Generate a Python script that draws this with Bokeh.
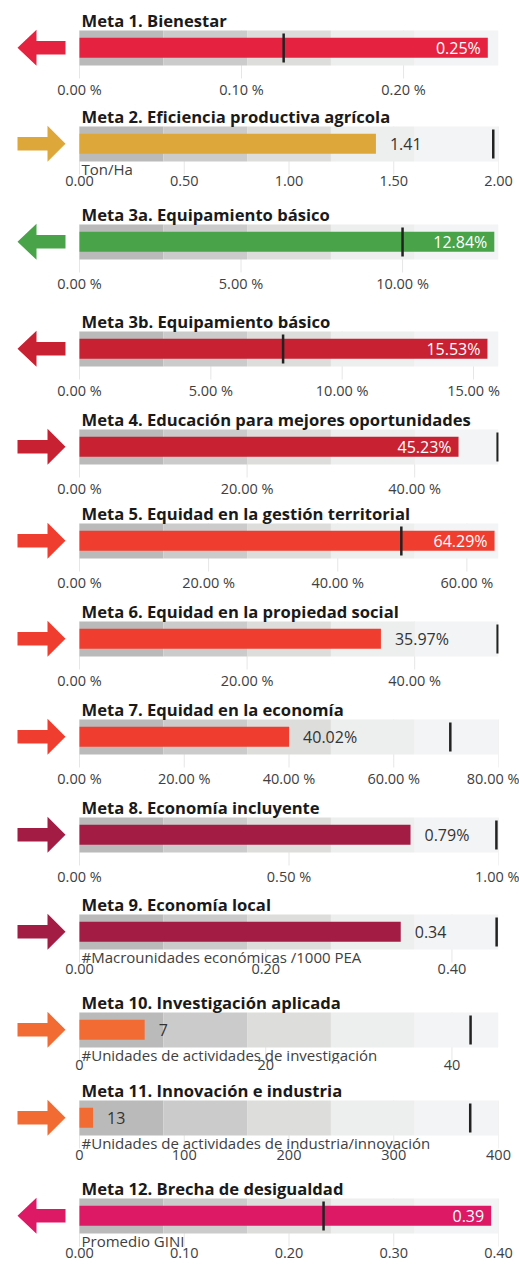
from bokeh.plotting import figure
from bokeh.layouts import column
from bokeh.models import Range1d, FixedTicker
from bokeh.embed import file_html
from bokeh.resources import INLINE
from bokeh.core.properties import value

# ---------------- data ----------------
titles = [
    "Meta 1. Bienestar",
    "Meta 2. Eficiencia productiva agrícola",
    "Meta 3a. Equipamiento básico",
    "Meta 3b. Equipamiento básico",
    "Meta 4. Educación para mejores oportunidades",
    "Meta 5. Equidad en la gestión territorial",
    "Meta 6. Equidad en la propiedad social",
    "Meta 7. Equidad en la economía",
    "Meta 8. Economía incluyente",
    "Meta 9. Economía local",
    "Meta 10. Investigación aplicada",
    "Meta 11.  Innovación e industria",
    "Meta 12. Brecha de desigualdad",
]
values = [0.252, 1.415, 12.84, 15.53, 45.23, 64.29, 35.97, 40.02, 0.79, 0.345, 7, 13, 0.393]
value_labels = ["0.25%", "1.41", "12.84%", "15.53%", "45.23%", "64.29%", "35.97%",
                "40.02%", "0.79%", "0.34", "7", "13", "0.39"]
targets = [0.126, 1.975, 10.0, 7.75, 49.9, 49.85, 49.9, 70.8, 0.995, 0.448, 42, 373, 0.233]
axis_max = [0.2586, 2.0, 12.97, 15.95, 50.0, 64.9, 50.0, 80.0, 1.0, 0.45, 45, 400, 0.4]
directions = ["left", "right", "left", "left", "right", "right", "right", "right",
              "right", "right", "right", "right", "left"]
colors = ["#e52340", "#dea73a", "#48a349", "#c72132", "#c72132", "#ef3e2f", "#ef3e2f",
          "#ef3e2f", "#a31c44", "#a31c44", "#f26b33", "#f26b33", "#dd1966"]
units = ["", "Ton/Ha", "", "", "", "", "", "", "",
         "#Macrounidades económicas /1000 PEA",
         "#Unidades de actividades de investigación",
         "#Unidades de actividades de industria/innovación",
         "Promedio GINI"]
tick_values = [
    [0, 0.1, 0.2],
    [0, 0.5, 1.0, 1.5, 2.0],
    [0, 5, 10],
    [0, 5, 10, 15],
    [0, 20, 40],
    [0, 20, 40, 60],
    [0, 20, 40],
    [0, 20, 40, 60, 80],
    [0, 0.5, 1.0],
    [0, 0.2, 0.4],
    [0, 20, 40],
    [0, 100, 200, 300, 400],
    [0, 0.1, 0.2, 0.3, 0.4],
]
tick_labels = [
    ["0.00 %", "0.10 %", "0.20 %"],
    ["0.00", "0.50", "1.00", "1.50", "2.00"],
    ["0.00 %", "5.00 %", "10.00 %"],
    ["0.00 %", "5.00 %", "10.00 %", "15.00 %"],
    ["0.00 %", "20.00 %", "40.00 %"],
    ["0.00 %", "20.00 %", "40.00 %", "60.00 %"],
    ["0.00 %", "20.00 %", "40.00 %"],
    ["0.00 %", "20.00 %", "40.00 %", "60.00 %", "80.00 %"],
    ["0.00 %", "0.50 %", "1.00 %"],
    ["0.00", "0.20", "0.40"],
    ["0", "20", "40"],
    ["0", "100", "200", "300", "400"],
    ["0.00", "0.10", "0.20", "0.30", "0.40"],
]
band_fractions = [0.2, 0.4, 0.6, 0.8, 1.0]
band_colors = ["#bababa", "#cbcbcb", "#dddddb", "#edeeee", "#f3f4f5"]

# ---------------- layout constants (pixels) ----------------
band_tops = [30, 126, 224, 331, 429, 523, 621, 719, 817, 914, 1012, 1100, 1198]
title_room = [30, 22, 22, 22, 22, 22, 22, 22, 22, 22, 22, 21, 22]
label_standoff = [-2, -2, -2, -2, -2, -2, -2, -2, -2, -2, -4, -2, -2]
PAGE_END = 1267
ZERO_PX = 79        # position of data zero inside the frame
SCALE_PX = 419      # pixels from zero to axis max
FRAME_W = 498
BAND_H = 35
BELOW = 16          # frame extends below bands

FONT = value("Open Sans")

tops = [b - r for b, r in zip(band_tops, title_room)]
bottoms = tops[1:] + [PAGE_END]

figs = []
for i in range(len(titles)):
    M = axis_max[i]
    sc = M / SCALE_PX
    top_off = band_tops[i] - tops[i]
    fh = top_off + BAND_H + BELOW
    bb = bottoms[i] - tops[i] - fh

    p = figure(frame_width=FRAME_W, frame_height=fh,
               x_range=Range1d(-ZERO_PX * sc, M),
               y_range=Range1d(BAND_H + BELOW, -top_off),
               min_border_left=0, min_border_right=21,
               min_border_top=0, min_border_bottom=bb,
               output_backend="svg", toolbar_location=None, tools="",
               y_axis_location=None)
    p.outline_line_color = None
    p.xgrid.visible = False
    p.ygrid.visible = False
    p.background_fill_color = "white"
    p.border_fill_color = "white"

    ax = p.xaxis[0]
    ax.ticker = FixedTicker(ticks=tick_values[i])
    ax.major_label_overrides = {v: l for v, l in zip(tick_values[i], tick_labels[i])}
    ax.axis_line_color = None
    ax.major_tick_line_color = None
    ax.minor_tick_line_color = None
    ax.major_tick_out = 0
    ax.major_tick_in = 0
    ax.minor_tick_out = 0
    ax.minor_tick_in = 0
    ax.major_label_standoff = label_standoff[i]
    ax.major_label_text_font = "Open Sans"
    ax.major_label_text_font_size = "14.5px"
    ax.major_label_text_color = "#404040"

    # tick guide lines (hidden behind bands)
    tv = tick_values[i]
    p.segment(x0=tv, x1=tv, y0=[0] * len(tv), y1=[BAND_H + 13] * len(tv),
              line_color="#e6e6e6", line_width=1)

    # qualitative bands
    edges = [0] + [f * M for f in band_fractions]
    p.hbar(y=BAND_H / 2, height=BAND_H, left=edges[:-1], right=edges[1:],
           fill_color=band_colors, line_color=None)

    # value bar
    p.hbar(y=[17.3], height=20, left=[0], right=[values[i]],
           fill_color=colors[i], line_color=None)

    # target marker
    p.segment(x0=[targets[i]], x1=[targets[i]], y0=[3], y1=[32],
              line_color="#222222", line_width=2.5)

    # direction arrow (left of the axis)
    def X(px):
        return (px - ZERO_PX) * sc
    cy = 17.3
    if directions[i] == "left":
        tip, neck, tail = 17, 36, 65
    else:
        tip, neck, tail = 65, 47, 17
    xs = [X(tip), X(neck), X(neck), X(tail), X(tail), X(neck), X(neck)]
    ys = [cy, cy - 18, cy - 6.8, cy - 6.8, cy + 6.8, cy + 6.8, cy + 18]
    p.patch(xs, ys, fill_color=colors[i], line_color=None)

    # title
    p.text(x=[0], y=[-10], text=[titles[i]], x_offset=2,
           text_baseline="middle", text_align="left",
           text_font=FONT, text_font_size="16.6px", text_font_style="bold",
           text_color="#1a1a1a")

    # unit label
    if units[i]:
        p.text(x=[0], y=[42], text=[units[i]], x_offset=2,
               text_baseline="middle", text_align="left",
               text_font=FONT, text_font_size="15px", text_color="#404040")

    # value label
    inside = values[i] > 0.85 * M
    p.text(x=[values[i]], y=[17.3], text=[value_labels[i]],
           x_offset=-7 if inside else 14,
           text_align="right" if inside else "left",
           text_baseline="middle", text_font=FONT, text_font_size="16px",
           text_color="white" if inside else "#333333")

    figs.append(p)

layout = column(*figs, spacing=0)
open("out.html", "w").write(file_html(layout, INLINE))
